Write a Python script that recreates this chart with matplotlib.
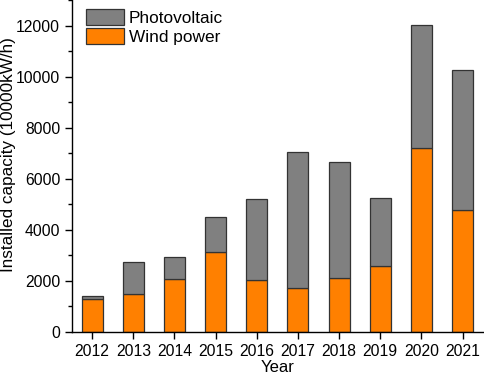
import matplotlib
matplotlib.use("Agg")
import matplotlib.pyplot as plt
from matplotlib.ticker import MultipleLocator

years = ["2012", "2013", "2014", "2015", "2016", "2017", "2018", "2019", "2020", "2021"]
wind = [1300, 1480, 2080, 3130, 2020, 1720, 2120, 2570, 7200, 4760]
total = [1400, 2730, 2920, 4520, 5200, 7060, 6640, 5230, 12030, 10250]
pv = [t - w for t, w in zip(total, wind)]

plt.rcParams['font.family'] = ['Liberation Sans', 'DejaVu Sans']
plt.rcParams['font.size'] = 11

fig = plt.figure(figsize=(4.84, 3.75), dpi=100)
ax = fig.add_axes([72/484, 43/375, 1 - 72/484, 1 - 43/375])

x = list(range(len(years)))
ax.bar(x, wind, width=0.51, color="#FF8000", edgecolor="#333333", linewidth=0.9, label="Wind power")
ax.bar(x, pv, width=0.51, bottom=wind, color="#808080", edgecolor="#333333", linewidth=0.9, label="Photovoltaic")

ax.set_xlim(-0.49, 9.52)
ax.set_ylim(0, 13000)
ax.set_xticks(x)
ax.set_xticklabels(years)
ax.yaxis.set_major_locator(MultipleLocator(2000))
ax.yaxis.set_minor_locator(MultipleLocator(1000))
ax.tick_params(axis='both', direction='out', length=5, width=1, labelsize=11.3)
ax.tick_params(axis='y', which='minor', length=3, width=1)
for s in ['top', 'right']:
    ax.spines[s].set_visible(False)
for s in ['left', 'bottom']:
    ax.spines[s].set_linewidth(1)

ax.set_xlabel("Year", fontsize=12, labelpad=1.2)
ax.set_ylabel("Installed capacity (10000kW/h)", fontsize=12.3)
ax.yaxis.set_label_coords(-0.137, 0.535)

h, l = ax.get_legend_handles_labels()
ax.legend(h[::-1], l[::-1], loc='upper left', bbox_to_anchor=(86/484, 1 - 9/375),
          bbox_transform=fig.transFigure, frameon=False, borderpad=0, borderaxespad=0,
          fontsize=12.4, handlelength=2.18, handleheight=1.05, labelspacing=0.12, handletextpad=0.3)

fig.savefig("out.png", dpi=100)
